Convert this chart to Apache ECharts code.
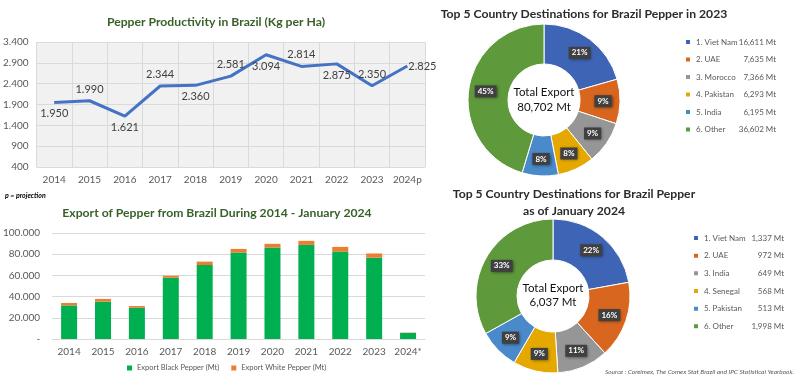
<!DOCTYPE html>
<html><head><meta charset="utf-8">
<script src="https://cdn.jsdelivr.net/npm/echarts@6/dist/echarts.min.js"></script>
<style>html,body{margin:0;padding:0;background:#fff}#c{width:800px;height:390px}</style>
</head><body><div id="c"></div>
<script>
// ---------- data ----------
const prodYears = ['2014','2015','2016','2017','2018','2019','2020','2021','2022','2023','2024p'];
const productivity = [1950, 1990, 1621, 2344, 2360, 2581, 3094, 2814, 2875, 2350, 2825];
const prodLabelPos = ['bottom','top','bottom','top','bottom','top','bottom','top','bottom','top','right'];

const exportYears = ['2014','2015','2016','2017','2018','2019','2020','2021','2022','2023','2024*'];
const blackPepper = [31700, 35200, 29500, 57800, 69800, 81600, 86300, 88800, 82500, 76700, 5700];
const whitePepper = [2300, 2600, 1600, 1900, 3200, 3400, 3500, 3800, 4400, 4000, 340];

const dest2023Names = ['1. Viet Nam','2. UAE','3. Morocco','4. Pakistan','5. India','6. Other'];
const dest2023Values = [16611, 7635, 7366, 6293, 6195, 36602];
const dest2024Names = ['1. Viet Nam','2. UAE','3. India','4. Senegal','5. Pakistan','6. Other'];
const dest2024Values = [1337, 972, 649, 568, 513, 1998];

const colors2023 = ['#3E64B5','#D9661F','#969696','#E5A800','#4A8ACB','#5E9A3C'];
const colors2024 = ['#3E64B5','#D9661F','#969696','#E5A800','#4A8ACB','#5E9A3C'];

// ---------- helpers ----------
const dotFmt = n => String(n).replace(/\B(?=(\d{3})+(?!\d))/g, '.');
const commaFmt = n => String(n).replace(/\B(?=(\d{3})+(?!\d))/g, ',');
const FONT = 'Lato, "Open Sans", sans-serif';

const lineData = productivity.map((v, i) => ({
  value: v,
  label: { position: prodLabelPos[i], distance: prodLabelPos[i] === 'right' ? 1 : 6 }
}));

function pieData(names, values, cols) {
  return names.map((n, i) => ({ name: n, value: values[i], itemStyle: { color: cols[i] } }));
}

const pieLabel = {
  show: true, position: 'inside', formatter: '{d}%',
  color: '#fff', fontWeight: 'bold', fontSize: 8, fontFamily: FONT,
  backgroundColor: '#404040', padding: [2, 3],
  shadowBlur: 3, shadowColor: 'rgba(0,0,0,0.5)', shadowOffsetX: 1, shadowOffsetY: 1
};

function legendRich() {
  return {
    a: { width: 44, fontSize: 8, color: '#595959', fontFamily: FONT, lineHeight: 12 },
    b: { width: 36, align: 'right', fontSize: 8, color: '#595959', fontFamily: FONT, lineHeight: 12 }
  };
}

function txt(text, x, y, font, fill, align) {
  return { type: 'text', x: x, y: y, silent: true,
    style: { text: text, font: font, fill: fill,
      textAlign: align || 'center', align: align || 'center',
      textVerticalAlign: 'middle', verticalAlign: 'middle' } };
}

const chart = echarts.init(document.getElementById('c'), null, { renderer: 'canvas' });

const TITLE = 'bold 12.2px ' + FONT;
chart.setOption({
  animation: false,
  textStyle: { fontFamily: FONT },
  graphic: [
    txt('Pepper Productivity in Brazil (Kg per Ha)', 216, 22, TITLE, '#38612A'),
    txt('p = projection', 5, 196, 'italic bold 7px ' + FONT, '#000', 'left'),
    txt('Export of Pepper from Brazil During 2014 - January 2024', 217, 213, TITLE, '#38612A'),
    txt('Top 5 Country Destinations for Brazil Pepper in 2023', 584, 14, TITLE, '#2B2B2B'),
    txt('Top 5 Country Destinations for Brazil Pepper', 574, 194, TITLE, '#2B2B2B'),
    txt('as of January 2024', 574, 211, TITLE, '#2B2B2B'),
    txt('Total Export', 544, 92, '11.5px ' + FONT, '#111'),
    txt(commaFmt(dest2023Values.reduce((a, b) => a + b, 0)) + ' Mt', 544, 107, '11.5px ' + FONT, '#111'),
    txt('Total Export', 553, 288, '11.5px ' + FONT, '#111'),
    txt(commaFmt(dest2024Values.reduce((a, b) => a + b, 0)) + ' Mt', 553, 302, '11.5px ' + FONT, '#111'),
    txt('Source : Coreimex, The Comex Stat Brazil and IPC Statistical Yearbook.', 794, 372, 'italic 6.5px ' + FONT, '#595959', 'right')
  ],
  grid: [
    { left: 36, right: 375, top: 42, bottom: 223, show: true, backgroundColor: '#F1F1F1', borderWidth: 0 },
    { left: 52, right: 375, top: 233, bottom: 51 }
  ],
  xAxis: [
    { type: 'category', gridIndex: 0, data: prodYears, boundaryGap: true,
      axisLine: { show: false }, axisTick: { show: false },
      axisLabel: { color: '#595959', fontSize: 10, margin: 8, interval: 0 },
      splitLine: { show: true, lineStyle: { color: '#DADADA', width: 1 } } },
    { type: 'category', gridIndex: 1, data: exportYears, boundaryGap: true,
      axisLine: { show: true, lineStyle: { color: '#D9D9D9' } }, axisTick: { show: false },
      axisLabel: { color: '#595959', fontSize: 10, margin: 8, interval: 0 } }
  ],
  yAxis: [
    { type: 'value', gridIndex: 0, min: 400, max: 3400, interval: 500,
      axisLine: { show: false }, axisTick: { show: false },
      axisLabel: { color: '#595959', fontSize: 10, margin: 8, formatter: v => dotFmt(v) },
      splitLine: { show: true, lineStyle: { color: '#DADADA', width: 1 } } },
    { type: 'value', gridIndex: 1, min: 0, max: 100000, interval: 20000,
      axisLine: { show: false }, axisTick: { show: false },
      axisLabel: { color: '#595959', fontSize: 10, margin: 12, formatter: v => v === 0 ? '-' : dotFmt(v) },
      splitLine: { show: true, lineStyle: { color: '#D9D9D9', width: 1 } } }
  ],
  legend: [
    { data: ['Export Black Pepper (Mt)', 'Export White Pepper (Mt)'], left: 122, top: 359,
      icon: 'rect', itemWidth: 5, itemHeight: 5, itemGap: 12, selectedMode: false,
      textStyle: { fontSize: 7.5, color: '#595959', fontFamily: FONT } },
    { data: dest2023Names, orient: 'vertical', left: 679, top: 33, icon: 'rect',
      itemWidth: 6, itemHeight: 6, itemGap: 9.5, selectedMode: false,
      formatter: name => '{a|' + name + '}{b|' + commaFmt(dest2023Values[dest2023Names.indexOf(name)]) + ' Mt}',
      textStyle: { rich: legendRich() } },
    { data: dest2024Names, orient: 'vertical', left: 687, top: 229, icon: 'rect',
      itemWidth: 6, itemHeight: 6, itemGap: 9.67, selectedMode: false,
      formatter: name => '{a|' + name + '}{b|' + commaFmt(dest2024Values[dest2024Names.indexOf(name)]) + ' Mt}',
      textStyle: { rich: legendRich() } }
  ],
  series: [
    { type: 'line', xAxisIndex: 0, yAxisIndex: 0, data: lineData, symbol: 'circle', symbolSize: 0,
      showSymbol: true,
      lineStyle: { color: '#4472C4', width: 3 }, itemStyle: { color: '#4472C4' },
      label: { show: true, formatter: p => dotFmt(p.value), color: '#404040', fontSize: 11, fontFamily: FONT } },
    { type: 'bar', name: 'Export Black Pepper (Mt)', xAxisIndex: 1, yAxisIndex: 1, stack: 'exp',
      data: blackPepper, barWidth: 16, itemStyle: { color: '#00B050' } },
    { type: 'bar', name: 'Export White Pepper (Mt)', xAxisIndex: 1, yAxisIndex: 1, stack: 'exp',
      data: whitePepper, barWidth: 16, itemStyle: { color: '#ED7D31' } },
    { type: 'pie', center: [544, 100], radius: [36, 76], startAngle: 90, clockwise: true,
      percentPrecision: 0, data: pieData(dest2023Names, dest2023Values, colors2023),
      label: pieLabel, labelLine: { show: false }, itemStyle: { borderColor: '#fff', borderWidth: 1 },
      emphasis: { disabled: true } },
    { type: 'pie', center: [553, 296], radius: [36, 77], startAngle: 90, clockwise: true,
      percentPrecision: 0, data: pieData(dest2024Names, dest2024Values, colors2024),
      label: pieLabel, labelLine: { show: false }, itemStyle: { borderColor: '#fff', borderWidth: 1 },
      emphasis: { disabled: true } }
  ]
});
</script></body></html>
